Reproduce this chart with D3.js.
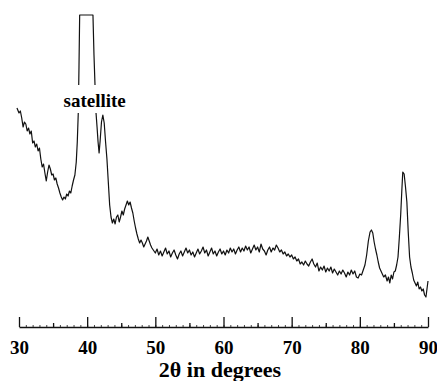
<!DOCTYPE html>
<html>
<head>
<meta charset="utf-8">
<script src="https://cdn.jsdelivr.net/npm/d3@7"></script>
<style>
  body { margin: 0; background: #fff; }
  svg { display: block; }
  text { font-family: "Liberation Serif", "DejaVu Serif", serif; fill: #000; }
</style>
</head>
<body>
<div id="chart"></div>
<script>
// XRD scan: [2theta, intensity in arbitrary units]
const scan = [
  [29.7,219],[30.0,214],[30.2,216],[30.4,209],[30.6,200],[30.8,205],[31.0,203],[31.2,196],[31.4,199],[31.6,193],
  [31.8,196],[32.0,184],[32.2,186],[32.4,180],[32.6,183],[32.8,176],[33.0,179],[33.2,168],[33.4,160],[33.6,163],
  [33.8,154],[34.0,146],[34.2,155],[34.4,162],[34.6,158],[34.8,152],[35.0,153],[35.2,147],[35.4,149],[35.6,143],
  [35.8,139],[36.0,134],[36.2,130],[36.4,127],[36.6,130],[36.8,128],[37.0,133],[37.2,131],[37.4,136],[37.6,134],
  [37.8,141],[38.0,147],[38.2,152],[38.4,165],[38.55,185],[38.7,215],[38.8,260],[38.9,330],[39.3,390],[40.0,420],
  [40.4,400],[40.85,330],[41.0,272],[41.15,242],[41.3,214],[41.45,200],[41.6,185],[41.75,174],[41.9,186],[42.1,205],
  [42.3,212],[42.5,204],[42.7,185],[42.9,168],[43.1,145],[43.3,122],[43.5,110],[43.7,104],[43.9,108],[44.1,103],
  [44.3,110],[44.5,112],[44.7,105],[44.9,110],[45.1,116],[45.3,112],[45.5,118],[45.7,122],[45.9,126],[46.1,122],
  [46.3,125],[46.5,119],[46.7,114],[46.9,106],[47.1,99],[47.3,93],[47.5,88],[47.7,84],[47.9,87],[48.1,84],
  [48.3,80],[48.5,83],[48.7,86],[48.9,90],[49.1,86],[49.3,82],[49.5,79],[49.7,77],[49.9,75],
  [50.0,74],[50.25,78],[50.5,72],[50.75,76],[51.0,71],[51.25,75],[51.5,79],[51.75,73],[52.0,76],[52.25,70],
  [52.5,74],[52.75,77],[53.0,72],[53.25,68],[53.5,73],[53.75,76],[54.0,71],[54.25,75],[54.5,79],[54.75,74],
  [55.0,77],[55.25,72],[55.5,75],[55.75,70],[56.0,74],[56.25,78],[56.5,73],[56.75,76],[57.0,80],[57.25,74],
  [57.5,77],[57.75,71],[58.0,75],[58.25,79],[58.5,73],[58.75,76],[59.0,71],[59.25,75],[59.5,78],[59.75,73],
  [60.0,76],[60.25,72],[60.5,77],[60.75,74],[61.0,79],[61.25,75],[61.5,78],[61.75,73],[62.0,77],[62.25,80],
  [62.5,75],[62.75,79],[63.0,76],[63.25,81],[63.5,77],[63.75,80],[64.0,74],[64.25,78],[64.5,82],[64.75,77],
  [65.0,80],[65.25,75],[65.5,83],[65.75,78],[66.0,76],[66.25,72],[66.5,77],[66.75,80],[67.0,75],[67.25,79],
  [67.5,77],[67.75,82],[68.0,79],[68.25,75],[68.5,77],[68.75,73],[69.0,75],[69.25,71],[69.5,73],[69.75,70],
  [70.0,72],[70.25,68],[70.5,70],[70.75,66],[71.0,68],[71.25,63],[71.5,65],[71.75,62],[72.0,66],[72.25,63],
  [72.5,61],[72.75,65],[73.0,68],[73.25,63],[73.5,60],[73.75,64],[74.0,56],[74.25,60],[74.5,57],[74.75,61],
  [75.0,55],[75.25,59],[75.5,56],[75.75,60],[76.0,54],[76.25,58],[76.5,55],[76.75,52],[77.0,56],[77.25,53],
  [77.5,57],[77.75,54],[78.0,50],[78.25,55],[78.5,52],[78.75,57],[79.0,53],[79.25,56],[79.5,50],[79.75,49],
  [80.0,53],[80.25,52],[80.5,57],[80.75,62],[81.0,72],[81.25,86],[81.5,95],[81.7,97],[81.9,94],[82.1,85],
  [82.3,78],[82.5,72],[82.7,65],[82.9,59],[83.1,56],[83.3,53],[83.5,50],[83.75,52],[84.0,46],[84.2,50],
  [84.4,44],[84.6,52],[84.8,48],[85.0,55],[85.2,56],[85.4,62],[85.6,70],[85.8,90],[86.0,113],[86.15,135],
  [86.3,155],[86.5,153],[86.7,140],[86.9,125],[87.1,95],[87.3,70],[87.5,60],[87.7,54],[87.9,47],[88.1,44],
  [88.3,41],[88.5,45],[88.7,38],[88.9,40],[89.1,36],[89.3,38],[89.5,32],[89.7,30],[89.85,38],[90.0,46]
];

const majorTicks = [30, 40, 50, 60, 70, 80, 90];
const midTicks = [35, 45, 55, 65, 75, 85];
const axisTitle = "2θ in degrees";
const peakLabel = "satellite";

const W = 437, H = 381;
const margin = { top: 15, right: 9, bottom: 54, left: 19 };
const plotW = W - margin.left - margin.right;
const plotH = H - margin.top - margin.bottom;

const svg = d3.select('#chart').append('svg')
  .attr('width', W)
  .attr('height', H);

svg.append('rect').attr('width', W).attr('height', H).attr('fill', '#fff');

const g = svg.append('g')
  .attr('transform', `translate(${margin.left},${margin.top})`);

const x = d3.scaleLinear().domain([30, 90]).range([0, plotW]);
// clamped, so the big peak runs flat along the top like the original
const y = d3.scaleLinear().domain([0, plotH]).range([plotH, 0]).clamp(true);

const line = d3.line()
  .x(d => x(d[0]))
  .y(d => y(d[1]));

g.append('path')
  .datum(scan)
  .attr('d', line)
  .attr('fill', 'none')
  .attr('stroke', '#111')
  .attr('stroke-width', 1.2)
  .attr('stroke-linejoin', 'round');

// label sits on a white box that hides the peak behind it
const lx = x(41.1), ly = 92;
g.append('rect')
  .attr('x', lx - 34).attr('y', ly - 22)
  .attr('width', 68).attr('height', 28)
  .attr('fill', '#fff');
g.append('text')
  .attr('x', lx).attr('y', ly)
  .attr('text-anchor', 'middle')
  .style('font-size', '19px')
  .style('font-weight', 'bold')
  .text(peakLabel);

// axes: 1 degree dots, 5 degree minor, 10 degree major
const axisG = g.append('g').attr('transform', `translate(0,${plotH})`);

axisG.append('g')
  .call(d3.axisBottom(x).tickValues(d3.range(30, 91, 1)).tickSize(-2).tickSizeOuter(0).tickFormat(''))
  .call(a => a.select('.domain').remove())
  .call(a => a.selectAll('line').attr('stroke', '#444').attr('stroke-width', 1));

axisG.append('g')
  .call(d3.axisBottom(x).tickValues(midTicks).tickSize(-4).tickSizeOuter(0).tickFormat(''))
  .call(a => a.select('.domain').remove())
  .call(a => a.selectAll('line').attr('stroke', '#111').attr('stroke-width', 1.3));

axisG.append('g')
  .call(d3.axisBottom(x).tickValues(majorTicks).tickSize(-10).tickSizeOuter(0).tickPadding(14))
  .call(a => a.select('.domain').attr('stroke', '#111').attr('stroke-width', 1.5))
  .call(a => a.selectAll('line').attr('stroke', '#111').attr('stroke-width', 1.3))
  .call(a => a.selectAll('text')
    .style('font-family', '"Liberation Serif", "DejaVu Serif", serif')
    .style('font-size', '19px')
    .style('font-weight', 'bold')
    .attr('fill', '#000'));

svg.append('text')
  .attr('x', 220)
  .attr('y', 377)
  .attr('text-anchor', 'middle')
  .style('font-size', '22px')
  .style('font-weight', 'bold')
  .text(axisTitle);
</script>
</body>
</html>
